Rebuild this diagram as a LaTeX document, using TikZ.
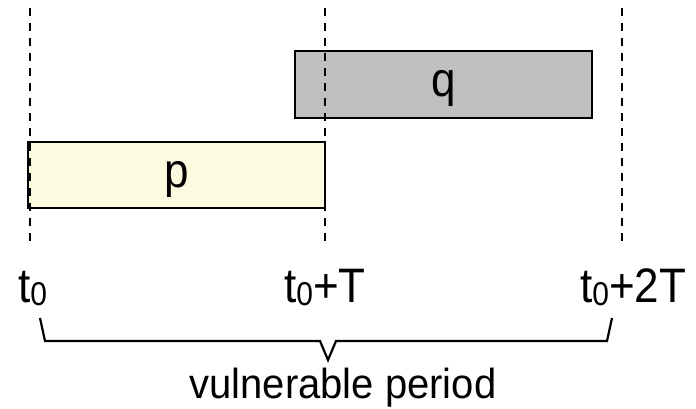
\documentclass[tikz,border=0pt]{standalone}
\usepackage{fontspec}
\setmainfont{Liberation Sans}
\definecolor{pfill}{HTML}{FCFADF}
\definecolor{qfill}{HTML}{BFBFBF}
\newcommand\mysub[1]{\raisebox{-3pt}{\fontsize{30}{34}\selectfont #1}}
\newcommand\tall[1]{\scalebox{1}[1.1]{#1}}
\begin{document}
\begin{tikzpicture}[x=1pt,y=-1pt,
  slot/.style={draw=black,line width=2.4pt,minimum width=297pt,inner sep=0pt,font=\fontsize{44}{52}\selectfont},
  guide/.style={line width=2.2pt,dash pattern=on 8pt off 7pt},
  lbl/.style={inner sep=0pt,anchor=base west,font=\fontsize{44}{52}\selectfont},
  brace/.style={line width=2.2pt,line join=miter}]
\useasboundingbox (0,0) rectangle (696,408);
\node[slot,fill=pfill,text height=45pt,text depth=21pt] (p) at (176.5,175) {\tall{p}};
\node[slot,fill=qfill,text height=45.5pt,text depth=21.5pt] (q) at (443.5,84.5) {\tall{q}};
\coordinate (g1a) at (30,8);   \coordinate (g1b) at (30,242);
\coordinate (g2a) at (325,8);  \coordinate (g2b) at (325,242);
\coordinate (g3a) at (622,8);  \coordinate (g3b) at (622,242);
\draw[guide] (g1a) -- (g1b);
\draw[guide] (g2a) -- (g2b);
\draw[guide] (g3a) -- (g3b);
\node[lbl] (l0) at (18,302) {\tall{t\mysub{0}}};
\node[lbl] (l1) at (284,302) {\tall{t\mysub{0}+T}};
\node[lbl] (l2) at (580,302) {\tall{t\mysub{0}+2T}};
\coordinate (b1) at (40,318);
\coordinate (b2) at (45,341);
\coordinate (b3) at (320,341);
\coordinate (b4) at (328,360);
\coordinate (b5) at (336,341);
\coordinate (b6) at (607,341);
\coordinate (b7) at (612,318);
\draw[brace] (b1) -- (b2) -- (b3) -- (b4) -- (b5) -- (b6) -- (b7);
\node[inner sep=0pt,anchor=base,font=\fontsize{40}{48}\selectfont] (vp) at (343,398) {\scalebox{1}[1.05]{vulnerable period}};
\end{tikzpicture}
\end{document}
